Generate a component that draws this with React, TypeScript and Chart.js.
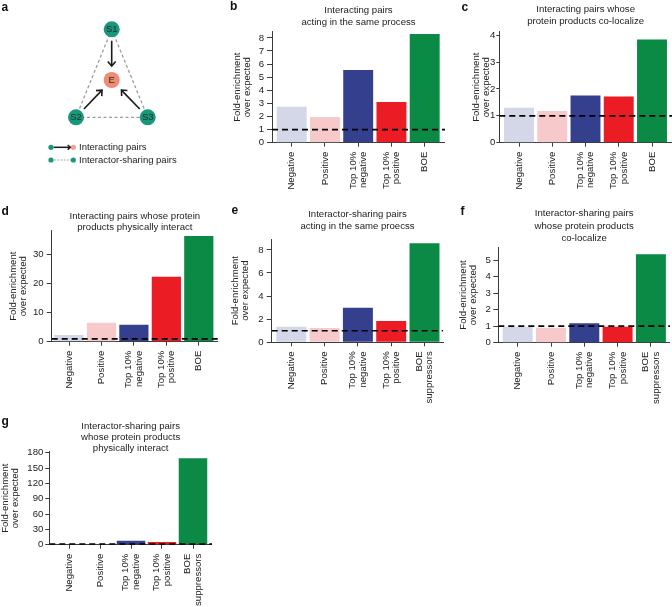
import React, { useEffect, useRef } from "react";
import { Chart, registerables } from "chart.js";
Chart.register(...registerables);

const FONT_FAMILY = "'Liberation Sans', Arial, Helvetica, sans-serif";
const TEXT = "#222222";
const AXIS = "#3c3c3c";

// ---------- shared categories / styles ----------
const catBOE: string[][] = [["Negative"], ["Positive"], ["Top 10%", "negative"], ["Top 10%", "positive"], ["BOE"]];
const catSupp: string[][] = [["Negative"], ["Positive"], ["Top 10%", "negative"], ["Top 10%", "positive"], ["BOE", "suppressors"]];
const barColors = ["#d3d7e7", "#f8c9cb", "#343f8e", "#ec1c24", "#0b8a45"];
const yAxisTitle = ["Fold-enrichment", "over expected"];
const expectedLevel = 1;

// ---------- panel b ----------
const bTitle = ["Interacting pairs", "acting in the same process"];
const bValues = [2.75, 1.97, 5.55, 3.1, 8.3];
const bTicks = [0, 1, 2, 3, 4, 5, 6, 7, 8];
// ---------- panel c ----------
const cTitle = ["Interacting pairs whose", "protein products co-localize"];
const cValues = [1.3, 1.18, 1.76, 1.72, 3.84];
const cTicks = [0, 1, 2, 3, 4];
// ---------- panel d ----------
const dTitle = ["Interacting pairs whose protein", "products physically interact"];
const dValues = [2.3, 6.5, 5.85, 22.3, 36.3];
const dTicks = [0, 10, 20, 30];
// ---------- panel e ----------
const eTitle = ["Interactor-sharing pairs", "acting in the same proecss"];
const eValues = [1.35, 1.24, 3.0, 1.84, 8.57];
const eTicks = [0, 2, 4, 6, 8];
// ---------- panel f ----------
const fTitle = ["Interactor-sharing pairs", "whose protein products", "co-localize"];
const fValues = [0.97, 0.91, 1.18, 0.97, 5.36];
const fTicks = [0, 1, 2, 3, 4, 5];
// ---------- panel g ----------
const gTitle = ["Interactor-sharing pairs", "whose protein products", "physically interact"];
const gValues = [1.0, 0.9, 7.8, 5.3, 169];
const gTicks = [0, 30, 60, 90, 120, 150, 180];

// ---------- panel a (schematic) ----------
const nodeNames = ["S1", "E", "S2", "S3"];
const nodeX = [111.7, 111.7, 76, 147.7];
const nodeY = [29.3, 80, 117.3, 117.3];
const nodeFill = ["#17987b", "#ee8b70", "#17987b", "#17987b"];
const sharingEdges = [[0, 2], [0, 3], [2, 3]];
const interactingEdges = [[0, 1], [2, 1], [3, 1]];
const legendLabels = ["Interacting pairs", "Interactor-sharing pairs"];
const legendY = [147.3, 160];
const legendDotX = [51, 73.3];
const legendTextX = 79;

type PanelCfg = {
  values: number[]; labels: string[][]; ticks: number[]; yMax: number; title: string[];
  chartLeft: number; chartRight: number; chartTop: number; chartBottom: number;
  firstCenter: number; pitch: number; titleMid: number; titleLh: number;
  yTitleMid: number; barPct: number; yTickPad: number; yTickLen: number;
};

const panels: PanelCfg[] = [
  { values: bValues, labels: catBOE, ticks: bTicks, yMax: 8.47, title: bTitle, chartLeft: 272, chartRight: 445, chartTop: 31.7, chartBottom: 142.7, firstCenter: 291.7, pitch: 33.25, titleMid: 9.9, titleLh: 12, yTitleMid: 237.3, barPct: 0.9, yTickPad: 3, yTickLen: 5 },
  { values: cValues, labels: catBOE, ticks: cTicks, yMax: 4.13, title: cTitle, chartLeft: 499.3, chartRight: 672, chartTop: 31.7, chartBottom: 142.7, firstCenter: 519, pitch: 33.25, titleMid: 9.5, titleLh: 12, yTitleMid: 476, barPct: 0.9, yTickPad: 1, yTickLen: 3 },
  { values: dValues, labels: catBOE, ticks: dTicks, yMax: 38.1, title: dTitle, chartLeft: 51.7, chartRight: 218, chartTop: 230.7, chartBottom: 341.7, firstCenter: 69, pitch: 32.45, titleMid: 216, titleLh: 11, yTitleMid: 13.7, barPct: 0.9, yTickPad: 3, yTickLen: 5 },
  { values: eValues, labels: catSupp, ticks: eTicks, yMax: 8.94, title: eTitle, chartLeft: 271.7, chartRight: 443.3, chartTop: 239, chartBottom: 342.3, firstCenter: 291.3, pitch: 33.3, titleMid: 214.6, titleLh: 12, yTitleMid: 235.8, barPct: 0.9, yTickPad: 3, yTickLen: 5 },
  { values: fValues, labels: catSupp, ticks: fTicks, yMax: 5.78, title: fTitle, chartLeft: 498.3, chartRight: 670, chartTop: 247.3, chartBottom: 342.7, firstCenter: 517.7, pitch: 33.3, titleMid: 213.6, titleLh: 12.5, yTitleMid: 463.7, barPct: 0.9, yTickPad: 2.5, yTickLen: 5 },
  { values: gValues, labels: catSupp, ticks: gTicks, yMax: 182, title: gTitle, chartLeft: 49.3, chartRight: 212, chartTop: 451.7, chartBottom: 544.7, firstCenter: 69, pitch: 31, titleMid: 426, titleLh: 11, yTitleMid: 5.7, barPct: 0.92, yTickPad: 2, yTickLen: 4 },
];

const panelLetters = [
  { t: "a", x: 1.5, base: 10.7 },
  { t: "b", x: 230, base: 10.5 },
  { t: "c", x: 461.5, base: 10.7 },
  { t: "d", x: 1.5, base: 215 },
  { t: "e", x: 231.5, base: 214 },
  { t: "f", x: 460.5, base: 215 },
  { t: "g", x: 1.5, base: 425 },
];

const FS = 9.6;
const Y_TITLE_LH = 10;
const TICK_LH = 10.6;
const X_TICK = 4;
const X2_H = 64;

function BarPanel({ p }: { p: PanelCfg }) {
  const ref = useRef<HTMLCanvasElement>(null);
  const canvasLeft = Math.round(p.yTitleMid - Y_TITLE_LH / 2 - 2);
  const canvasTop = Math.round(p.titleMid - p.titleLh / 2 - 2);
  const width = Math.ceil(p.chartRight - canvasLeft);
  const height = Math.ceil(p.chartBottom - canvasTop + X_TICK + X2_H);

  useEffect(() => {
    const xMin = (p.chartLeft - p.firstCenter) / p.pitch;
    const xMax = (p.chartRight - p.firstCenter) / p.pitch;
    const titlePadTop = p.titleMid - p.titleLh / 2 - canvasTop;
    const titlePadBottom = p.chartTop - canvasTop - titlePadTop - p.title.length * p.titleLh;
    const yTitlePadTop = p.yTitleMid - Y_TITLE_LH / 2 - canvasLeft;
    const x2Height = height - (p.chartBottom - canvasTop) - X_TICK;
    const rightPad = width - (p.chartRight - canvasLeft);
    const tickFont = { family: FONT_FAMILY, size: FS, lineHeight: TICK_LH / FS };

    const chart = new Chart(ref.current as HTMLCanvasElement, {
      type: "bar",
      data: {
        datasets: [
          {
            type: "line",
            data: [{ x: xMin, y: expectedLevel }, { x: xMax, y: expectedLevel }],
            borderColor: "#000000",
            borderWidth: 1.7,
            borderDash: [6, 4],
            pointRadius: 0,
            order: 0,
            xAxisID: "x",
            yAxisID: "y",
          } as any,
          {
            type: "bar",
            data: p.values.map((v, i) => ({ x: i, y: v })),
            backgroundColor: barColors,
            borderWidth: 0,
            barPercentage: p.barPct,
            categoryPercentage: 1,
            order: 1,
            xAxisID: "x",
            yAxisID: "y",
          } as any,
        ],
      },
      options: {
        responsive: false,
        animation: false,
        events: [],
        layout: { autoPadding: false, padding: { left: 0, top: 0, bottom: 0, right: rightPad } },
        plugins: {
          legend: { display: false },
          tooltip: { enabled: false },
          title: {
            display: true,
            text: p.title,
            fullSize: false,
            color: TEXT,
            font: { family: FONT_FAMILY, size: FS, weight: "normal", lineHeight: p.titleLh / FS },
            padding: { top: titlePadTop, bottom: titlePadBottom },
          },
        },
        scales: {
          x: {
            type: "linear",
            position: "bottom",
            weight: 0,
            offset: false,
            min: xMin,
            max: xMax,
            grid: { display: true, offset: false, drawOnChartArea: false, drawTicks: true, tickLength: X_TICK, color: AXIS, lineWidth: 1 },
            border: { display: true, color: AXIS, width: 1 },
            ticks: { display: false },
            afterBuildTicks: (s: any) => { s.ticks = p.values.map((_, i) => ({ value: i })); },
            afterFit: (s: any) => { s.height = X_TICK; s.paddingLeft = 0; s.paddingRight = 0; },
          },
          x2: {
            type: "linear",
            position: "bottom",
            weight: 1,
            offset: false,
            min: xMin,
            max: xMax,
            grid: { display: false, offset: false, drawTicks: false },
            border: { display: false },
            ticks: {
              autoSkip: false,
              minRotation: 90,
              maxRotation: 90,
              padding: 5,
              color: TEXT,
              font: tickFont,
              callback: (_v: any, i: number) => p.labels[i],
            },
            afterBuildTicks: (s: any) => {
              s.ticks = p.labels.map((l, i) => ({ value: i - ((l.length - 1) * TICK_LH) / 2 / p.pitch }));
            },
            afterFit: (s: any) => { s.height = x2Height; s.paddingLeft = 0; s.paddingRight = 0; },
          },
          y: {
            type: "linear",
            position: "left",
            min: 0,
            max: p.yMax,
            grid: { display: true, drawOnChartArea: false, drawTicks: true, tickLength: p.yTickLen, color: AXIS, lineWidth: 1 },
            border: { display: true, color: AXIS, width: 1 },
            ticks: { autoSkip: false, padding: p.yTickPad, color: TEXT, font: { family: FONT_FAMILY, size: FS } },
            afterBuildTicks: (s: any) => { s.ticks = p.ticks.map((v) => ({ value: v })); },
            title: {
              display: true,
              text: yAxisTitle,
              color: TEXT,
              font: { family: FONT_FAMILY, size: FS, lineHeight: Y_TITLE_LH / FS },
              padding: { top: yTitlePadTop, bottom: 0 },
            },
            afterFit: (s: any) => { s.width = p.chartLeft - canvasLeft; s.paddingTop = 0; s.paddingBottom = 0; },
          },
        },
      } as any,
    });
    return () => chart.destroy();
  }, []);

  return (
    <canvas
      ref={ref}
      width={width}
      height={height}
      style={{ position: "absolute", left: canvasLeft, top: canvasTop, width, height }}
    />
  );
}

function SchematicPanel() {
  const ref = useRef<HTMLCanvasElement>(null);
  const W = 230;
  const H = 200;
  useEffect(() => {
    const nodes = nodeX.map((x, i) => ({ x, y: nodeY[i] }));
    const shorten = (a: { x: number; y: number }, b: { x: number; y: number }, g0: number, g1: number) => {
      const dx = b.x - a.x, dy = b.y - a.y;
      const L = Math.hypot(dx, dy);
      return [
        { x: a.x + (dx * g0) / L, y: a.y + (dy * g0) / L },
        { x: b.x - (dx * g1) / L, y: b.y - (dy * g1) / L },
      ];
    };
    const datasets: any[] = [];
    sharingEdges.forEach(([i, j]) => {
      datasets.push({
        type: "line", data: [nodes[i], nodes[j]], borderColor: "#9c9c9c", borderWidth: 1.3,
        borderDash: [3, 2.5], pointRadius: 0, order: 3,
      });
    });
    interactingEdges.forEach(([i, j]) => {
      datasets.push({
        type: "line", data: shorten(nodes[i], nodes[j], 11.5, 14), borderColor: "#1a1a1a", borderWidth: 1.6,
        pointRadius: 0, order: 2, arrowHead: true, arrowSize: 6,
      });
    });
    // legend row 1: arrow
    datasets.push({
      type: "line",
      data: shorten({ x: legendDotX[0], y: legendY[0] }, { x: legendDotX[1], y: legendY[0] }, 2.5, 3),
      borderColor: "#1a1a1a", borderWidth: 1.5, pointRadius: 0, order: 2, arrowHead: true, arrowSize: 3.5,
    });
    // legend row 2: dotted
    datasets.push({
      type: "line",
      data: [{ x: legendDotX[0], y: legendY[1] }, { x: legendDotX[1], y: legendY[1] }],
      borderColor: "#9c9c9c", borderWidth: 1.2, borderDash: [1.6, 1.6], pointRadius: 0, order: 3,
    });
    // legend dots
    datasets.push({
      type: "scatter",
      data: [
        { x: legendDotX[0], y: legendY[0] }, { x: legendDotX[1], y: legendY[0] },
        { x: legendDotX[0], y: legendY[1] }, { x: legendDotX[1], y: legendY[1] },
      ],
      pointRadius: 2.6,
      pointBackgroundColor: [nodeFill[0], "#f1a38f", nodeFill[0], nodeFill[0]],
      pointBorderWidth: 0, order: 1,
    });
    const nodeIndex = datasets.length;
    datasets.push({
      type: "scatter", data: nodes, pointRadius: 8, pointBackgroundColor: nodeFill,
      pointBorderWidth: 0, order: 0,
    });

    const drawPlugin = {
      id: "schematicText",
      afterDatasetsDraw(chart: any) {
        const ctx = chart.ctx;
        chart.data.datasets.forEach((ds: any, i: number) => {
          if (!ds.arrowHead) return;
          const pts = chart.getDatasetMeta(i).data;
          const a = pts[pts.length - 2], b = pts[pts.length - 1];
          const ang = Math.atan2(b.y - a.y, b.x - a.x);
          const L = ds.arrowSize, sp = Math.PI * 0.23;
          ctx.save();
          ctx.strokeStyle = ds.borderColor;
          ctx.lineWidth = ds.borderWidth;
          ctx.setLineDash([]);
          ctx.beginPath();
          ctx.moveTo(b.x - L * Math.cos(ang - sp), b.y - L * Math.sin(ang - sp));
          ctx.lineTo(b.x, b.y);
          ctx.lineTo(b.x - L * Math.cos(ang + sp), b.y - L * Math.sin(ang + sp));
          ctx.stroke();
          ctx.restore();
        });
        ctx.save();
        ctx.font = `9.5px ${FONT_FAMILY}`;
        ctx.fillStyle = "#1c2b28";
        ctx.textAlign = "center";
        ctx.textBaseline = "middle";
        chart.getDatasetMeta(nodeIndex).data.forEach((el: any, k: number) => {
          ctx.fillText(nodeNames[k], el.x, el.y + 0.5);
        });
        ctx.fillStyle = TEXT;
        ctx.textAlign = "left";
        legendLabels.forEach((t, k) => {
          ctx.fillText(t, chart.scales.x.getPixelForValue(legendTextX), chart.scales.y.getPixelForValue(legendY[k]) + 0.5);
        });
        ctx.restore();
      },
    };

    const chart = new Chart(ref.current as HTMLCanvasElement, {
      type: "scatter",
      data: { datasets },
      options: {
        responsive: false,
        animation: false,
        events: [],
        layout: { autoPadding: false, padding: 0 },
        plugins: { legend: { display: false }, tooltip: { enabled: false } },
        scales: {
          x: { type: "linear", min: 0, max: W, display: false },
          y: { type: "linear", min: 0, max: H, reverse: true, display: false },
        },
      } as any,
      plugins: [drawPlugin],
    });
    return () => chart.destroy();
  }, []);
  return <canvas ref={ref} width={W} height={H} style={{ position: "absolute", left: 0, top: 0, width: W, height: H }} />;
}

export default function App() {
  return (
    <div
      style={{
        position: "absolute", left: 0, top: 0, width: 672, height: 607, overflow: "hidden",
        background: "#ffffff", fontFamily: FONT_FAMILY,
      }}
    >
      <SchematicPanel />
      {panels.map((p, i) => (
        <BarPanel key={i} p={p} />
      ))}
      {panelLetters.map((l) => (
        <div
          key={l.t}
          style={{
            position: "absolute", left: l.x, top: l.base - 10.2, fontSize: 12, lineHeight: "12px",
            fontWeight: "bold", color: "#111", fontFamily: FONT_FAMILY,
          }}
        >
          {l.t}
        </div>
      ))}
    </div>
  );
}
